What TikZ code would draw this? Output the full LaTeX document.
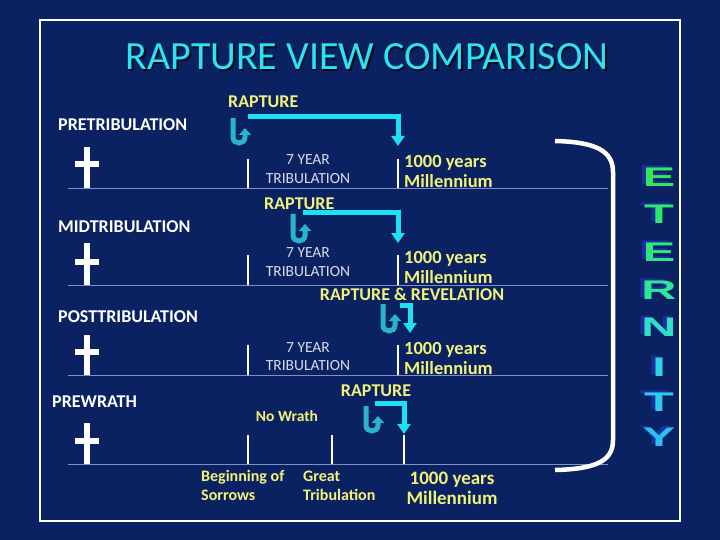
\documentclass[tikz,border=0pt]{standalone}
\usepackage{fontspec}
\setmainfont{Carlito}
\newfontfamily\etfont{Liberation Sans}
\usetikzlibrary{arrows.meta}
\definecolor{bg}{HTML}{0B2262}
\definecolor{ttl}{HTML}{2EE3F0}
\definecolor{ylw}{HTML}{F2F27A}
\definecolor{gry}{HTML}{D8DCEC}
\definecolor{lineclr}{HTML}{7F90C8}
\definecolor{cyanA}{HTML}{1EE0F2}
\definecolor{tealA}{HTML}{2AB4C8}
\definecolor{shad}{HTML}{1A2E9E}
\definecolor{e1}{HTML}{30E858}
\definecolor{e2}{HTML}{2EE868}
\definecolor{e3}{HTML}{2EE67E}
\definecolor{e4}{HTML}{2EE698}
\definecolor{e5}{HTML}{32DEC4}
\definecolor{e6}{HTML}{2CD4E2}
\definecolor{e7}{HTML}{2CCCEA}
\definecolor{e8}{HTML}{2CC0F0}
\newcommand\Uarr[4]{% name, left x, top y, bottom y
  \coordinate (#1s) at (#2,#3);
  \coordinate (#1e) at ({#2+12},{#3+10});
  \draw[uarrow] (#1s) -- (#2,{#4-9}) .. controls (#2,{#4-1}) and ({#2+12},{#4-1}) .. ({#2+12},{#4-9}) -- (#1e);
}
\begin{document}
\begin{tikzpicture}[x=1pt,y=-1pt,
  lbl/.style={text=white, font=\bfseries\fontsize{18}{20}\selectfont, anchor=west, inner sep=0},
  yel/.style={text=ylw, font=\bfseries\fontsize{18}{20}\selectfont, inner sep=0},
  yels/.style={text=ylw, font=\bfseries\fontsize{18.5}{20}\selectfont, inner sep=0, anchor=base west},
  ybot/.style={text=ylw, font=\bfseries\fontsize{16}{18}\selectfont, inner sep=0, anchor=base west},
  gtxt/.style={text=gry, font=\fontsize{15.5}{17}\selectfont, inner sep=0, anchor=base},
  crossln/.style={draw=white, line width=5.5pt},
  tickln/.style={draw=white, line width=2.5pt},
  baseln/.style={draw=lineclr, line width=0.8pt},
  bentarrow/.style={draw=cyanA, line width=5pt, miter limit=10, -{Triangle[length=10pt,width=13pt]}},
  uarrow/.style={draw=tealA, line width=5pt, -{Triangle[length=7pt,width=12pt]}},
  etl/.style={font=\etfont\bfseries\fontsize{27}{27}\selectfont, inner sep=0}
]
\fill[bg] (0,0) rectangle (720,540);
\useasboundingbox (0,0) rectangle (720,540);
\draw[white, line width=2.5pt] (40,20) rectangle (680,521);

% title
\node[text=black!70!bg, font=\fontsize{40}{42}\selectfont, inner sep=0] at (368.5,58.5) {RAPTURE VIEW COMPARISON};
\node[text=ttl, font=\fontsize{40}{42}\selectfont, inner sep=0] (title) at (367,57) {RAPTURE VIEW COMPARISON};

% ---------- Row 1: pretribulation
\node[lbl] (l1) at (58,125) {PRETRIBULATION};
\draw[crossln] (87,147) -- (87,188);
\draw[crossln] (75,164) -- (99,164);
\draw[baseln] (68,188) -- (608,188);
\draw[tickln] (248,159) -- (248,188);
\draw[tickln] (398,159) -- (398,188);
\node[gtxt] (y1a) at (308,165) {7 YEAR};
\node[gtxt] (y1b) at (308,184) {TRIBULATION};
\node[yels] (m1a) at (404,168) {1000 years};
\node[yels] (m1b) at (404,188) {Millennium};
\node[yel, anchor=west] (r1) at (228,102) {RAPTURE};
\Uarr{u1}{233}{118}{146}
\coordinate (b1s) at (248,117);
\coordinate (b1c) at (398,117);
\coordinate (b1e) at (398,146);
\draw[bentarrow] (b1s) -- (b1c) -- (b1e);

% ---------- Row 2: midtribulation
\node[lbl] (l2) at (58,227) {MIDTRIBULATION};
\draw[crossln] (87,243) -- (87,285);
\draw[crossln] (75,262) -- (99,262);
\draw[baseln] (68,285) -- (608,285);
\draw[tickln] (248,255) -- (248,285);
\draw[tickln] (398,255) -- (398,285);
\node[gtxt] (y2a) at (308,258) {7 YEAR};
\node[gtxt] (y2b) at (308,276) {TRIBULATION};
\node[yels] (m2a) at (404,263) {1000 years};
\node[yels] (m2b) at (404,283) {Millennium};
\node[yel, anchor=west] (r2) at (264,204) {RAPTURE};
\Uarr{u2}{293}{214}{244}
\coordinate (b2s) at (303,213);
\coordinate (b2c) at (398,213);
\coordinate (b2e) at (398,243);
\draw[bentarrow] (b2s) -- (b2c) -- (b2e);

% ---------- Row 3: posttribulation
\node[lbl] (l3) at (58,317) {POSTTRIBULATION};
\draw[crossln] (87,335) -- (87,375);
\draw[crossln] (75,352) -- (99,352);
\draw[baseln] (68,375) -- (608,375);
\draw[tickln] (248,345) -- (248,375);
\draw[tickln] (398,345) -- (398,375);
\node[gtxt] (y3a) at (308,352) {7 YEAR};
\node[gtxt] (y3b) at (308,370) {TRIBULATION};
\node[yels] (m3a) at (404,354) {1000 years};
\node[yels] (m3b) at (404,374) {Millennium};
\node[yel] (r3) at (412,294) {RAPTURE \& REVELATION};
\Uarr{u3}{383}{304}{334}
\coordinate (b3s) at (400,305);
\coordinate (b3c) at (410,305);
\coordinate (b3e) at (410,333);
\draw[bentarrow] (b3s) -- (b3c) -- (b3e);

% ---------- Row 4: prewrath
\node[lbl] (l4) at (52,402) {PREWRATH};
\draw[crossln] (87,423) -- (87,464);
\draw[crossln] (75,441) -- (99,441);
\draw[baseln] (68,464) -- (608,464);
\draw[tickln] (248,435) -- (248,464);
\draw[tickln] (332,435) -- (332,464);
\draw[tickln] (404,435) -- (404,464);
\node[yel, font=\bfseries\fontsize{15.5}{17}\selectfont] (nw) at (287,416) {No Wrath};
\node[ybot] (bg1) at (201,481) {Beginning of};
\node[ybot] (bg2) at (201,500) {Sorrows};
\node[ybot] (gt1) at (303,481) {Great};
\node[ybot] (gt2) at (303,500) {Tribulation};
\node[yel, anchor=base, font=\bfseries\fontsize{19}{21}\selectfont] (m4a) at (452,484) {1000 years};
\node[yel, anchor=base, font=\bfseries\fontsize{19}{21}\selectfont] (m4b) at (452,504) {Millennium};
\node[yel] (r4) at (376,391) {RAPTURE};
\Uarr{u4}{366}{406}{434}
\coordinate (b4s) at (375,403);
\coordinate (b4c) at (404,403);
\coordinate (b4e) at (404,434);
\draw[bentarrow] (b4s) -- (b4c) -- (b4e);

% ---------- bracket
\draw[white, line width=4.5pt] (555,141) .. controls (598,142) and (613,152) .. (613,172) -- (613,440) .. controls (613,460) and (598,469) .. (555,470);

% ---------- ETERNITY
\foreach \ch/\yy/\cc in {E/177/e1, T/214/e2, E/252/e3, R/290/e4, N/327/e5, I/367/e6, T/402/e7, Y/437/e8}{
  \node[etl, text=shad] at (655,{\yy-2}) {\scalebox{1.8}[1]{\ch}};
  \node[etl, text=\cc] at (659,\yy) {\scalebox{1.8}[1]{\ch}};
}
\end{tikzpicture}
\end{document}
